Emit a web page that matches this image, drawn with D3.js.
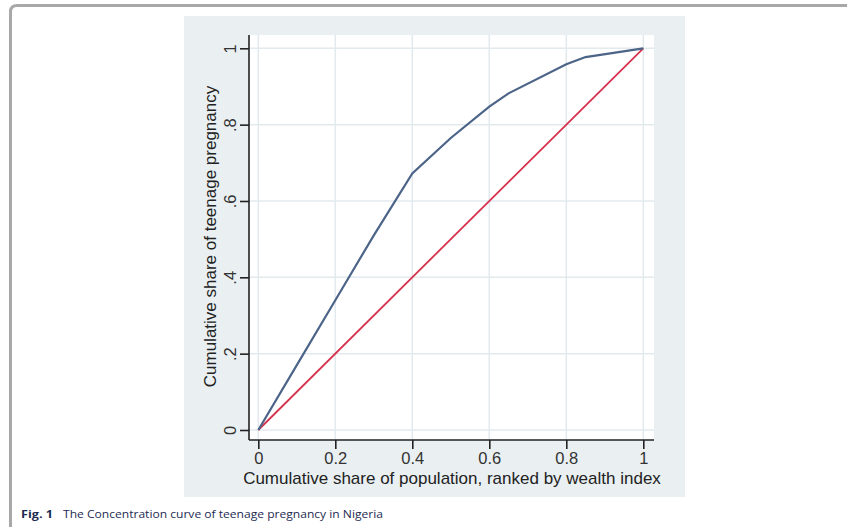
<!DOCTYPE html>
<html lang="en">
<head>
  <meta charset="UTF-8" />
  <title>Concentration curve of teenage pregnancy</title>
  <script src="https://d3js.org/d3.v7.min.js"></script>
  <style>
    html, body {
      margin: 0;
      background: #fff;
      font-family: "Liberation Sans", Arial, sans-serif;
    }
    svg { display: block; }
    .grid line { stroke: #e2eaee; stroke-width: 1.5; }
    .axis path, .axis line { stroke: #222; stroke-width: 1.6; }
    .axis text { fill: #333; font-size: 16.5px; font-family: "Liberation Sans", Arial, sans-serif; }
    .title { fill: #222; font-size: 17px; }
    .caption { fill: #1d2b52; font-size: 10px; font-family: "Open Sans", sans-serif; }
  </style>
</head>
<body>
  <svg id="chart" width="847" height="527"></svg>
  <script>
    // concentration curve
    const popShare  = [0, 0.1, 0.2, 0.3, 0.4, 0.5, 0.6, 0.65, 0.8, 0.85, 1];
    const pregShare = [0, 0.17, 0.34, 0.51, 0.672, 0.765, 0.847, 0.882, 0.958, 0.977, 1];
    // line of equality
    const eqX = [0, 1];
    const eqY = [0, 1];

    const xTicks = [0, 0.2, 0.4, 0.6, 0.8, 1];
    const xTickLabels = ['0', '0.2', '0.4', '0.6', '0.8', '1'];
    const yTicks = [0, 0.2, 0.4, 0.6, 0.8, 1];
    const yTickLabels = ['0', '.2', '.4', '.6', '.8', '1'];

    const svg = d3.select('#chart');

    // page frame
    svg.append('path')
      .attr('d', 'M10.5,530 L10.5,12 Q10.5,5.5 17,5.5 L860,5.5')
      .attr('fill', 'none')
      .attr('stroke', '#a8a8a8')
      .attr('stroke-width', 3);

    // graph region
    const outer = { x0: 184, y0: 16, x1: 685, y1: 497 };
    const plot = { x0: 249, y0: 35, x1: 654, y1: 440 };

    svg.append('rect')
      .attr('x', outer.x0).attr('y', outer.y0)
      .attr('width', outer.x1 - outer.x0).attr('height', outer.y1 - outer.y0)
      .attr('fill', '#eaf0f2');
    svg.append('rect')
      .attr('x', plot.x0).attr('y', plot.y0)
      .attr('width', plot.x1 - plot.x0).attr('height', plot.y1 - plot.y0)
      .attr('fill', '#fff');

    const x = d3.scaleLinear().domain([0, 1]).range([258.3, 643.3]);
    const y = d3.scaleLinear().domain([0, 1]).range([430, 48.3]);

    // grid lines
    const grid = svg.append('g').attr('class', 'grid');
    grid.selectAll('.gx').data(xTicks).enter().append('line')
      .attr('x1', d => x(d)).attr('x2', d => x(d))
      .attr('y1', plot.y0).attr('y2', plot.y1);
    grid.selectAll('.gy').data(yTicks).enter().append('line')
      .attr('y1', d => y(d)).attr('y2', d => y(d))
      .attr('x1', plot.x0).attr('x2', plot.x1);

    // lines
    const line = d3.line().x(d => x(d[0])).y(d => y(d[1]));
    svg.append('path')
      .datum(eqX.map((v, i) => [v, eqY[i]]))
      .attr('d', line)
      .attr('fill', 'none')
      .attr('stroke', '#d6324e')
      .attr('stroke-width', 1.8);
    svg.append('path')
      .datum(popShare.map((v, i) => [v, pregShare[i]]))
      .attr('d', line)
      .attr('fill', 'none')
      .attr('stroke', '#4c6488')
      .attr('stroke-width', 2.2);

    // x axis
    const xAxis = svg.append('g')
      .attr('class', 'axis')
      .attr('transform', `translate(0,${plot.y1})`)
      .call(d3.axisBottom(x).tickValues(xTicks)
        .tickFormat((d, i) => xTickLabels[i]).tickSize(9).tickSizeOuter(0));
    xAxis.select('.domain').attr('d', `M${plot.x0},0H${plot.x1}`);
    xAxis.selectAll('text').attr('y', 12).attr('dy', '0.71em');

    // y axis
    const yAxis = svg.append('g')
      .attr('class', 'axis')
      .attr('transform', `translate(${plot.x0},0)`)
      .call(d3.axisLeft(y).tickValues(yTicks)
        .tickFormat((d, i) => yTickLabels[i]).tickSize(9).tickSizeOuter(0));
    yAxis.select('.domain').attr('d', `M0,${plot.y0}V${plot.y1}`);
    yAxis.selectAll('text')
      .attr('x', 0).attr('dy', 0)
      .attr('transform', 'translate(-13,0) rotate(-90)')
      .attr('text-anchor', 'middle');

    // axis titles
    svg.append('text')
      .attr('class', 'title')
      .attr('x', (241 + 663) / 2).attr('y', 484)
      .attr('text-anchor', 'middle')
      .text('Cumulative share of population, ranked by wealth index');
    svg.append('text')
      .attr('class', 'title')
      .attr('transform', `translate(216,${(85 + 388) / 2}) rotate(-90)`)
      .attr('text-anchor', 'middle')
      .text('Cumulative share of teenage pregnancy');

    // caption
    svg.append('text')
      .attr('class', 'caption')
      .attr('x', 21).attr('y', 518)
      .attr('font-weight', 'bold')
      .attr('textLength', 32).attr('lengthAdjust', 'spacingAndGlyphs')
      .text('Fig. 1');
    svg.append('text')
      .attr('class', 'caption')
      .attr('x', 63).attr('y', 518)
      .attr('textLength', 320).attr('lengthAdjust', 'spacingAndGlyphs')
      .text('The Concentration curve of teenage pregnancy in Nigeria');
  </script>
</body>
</html>
